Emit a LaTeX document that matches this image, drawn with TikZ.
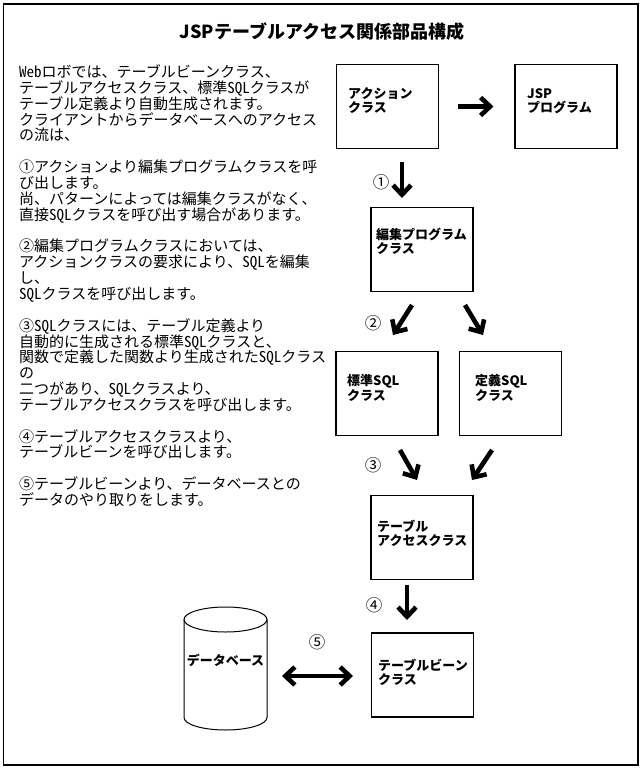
\documentclass[tikz,border=0pt]{standalone}
\usepackage{fontspec}
\setmainfont{Noto Sans CJK JP}
\newfontfamily\hw{Noto Sans CJK JP}[CharacterWidth=Half]
\usetikzlibrary{arrows.meta}
\tikzset{
  frame/.style={draw=black, line width=1.2pt},
  box/.style={draw=black, line width=1.1pt, minimum width=102pt, minimum height=84pt, inner sep=0pt},
  boxtext/.style={anchor=base west, align=left, inner sep=0pt, font=\bfseries\fontsize{13}{13.5}\selectfont},
  numlabel/.style={inner sep=0pt, font=\fontsize{16.5}{18}\selectfont},
  bigarrow/.style={line width=4.6pt, -{Straight Barb[length=9.5pt,width=18pt]}},
  dblarrow/.style={line width=4.6pt, {Straight Barb[length=9.5pt,width=18pt]}-{Straight Barb[length=9.5pt,width=18pt]}},
  cyl/.style={draw=black, line width=1pt}
}
\begin{document}
\begin{tikzpicture}[x=1pt, y=-1pt]
\useasboundingbox (0,0) rectangle (644,770);
\draw[frame] (3.5,4) rectangle (638,765);

\node[inner sep=0pt, font=\bfseries\fontsize{18}{20}\selectfont] (title) at (322,31.5) {JSPテーブルアクセス関係部品構成};

\node[anchor=base west, align=left, inner sep=0pt, font=\fontsize{15}{15.85}\selectfont] (desc) at (19,505.5) {%
{\hw Web}ロボでは、テーブルビーンクラス、\\
テーブルアクセスクラス、標準{\hw SQL}クラスが\\
テーブル定義より自動生成されます。\\
クライアントからデータベースへのアクセス\\
の流は、\\
~\\
①アクションより編集プログラムクラスを呼\\
び出します。\\
尚、パターンによっては編集クラスがなく、\\
直接{\hw SQL}クラスを呼び出す場合があります。\\
~\\
②編集プログラムクラスにおいては、\\
アクションクラスの要求により、{\hw SQL}を編集\\
し、\\
{\hw SQL}クラスを呼び出します。\\
~\\
③{\hw SQL}クラスには、テーブル定義より\\
自動的に生成される標準{\hw SQL}クラスと、\\
関数で定義した関数より生成された{\hw SQL}クラス\\
の\\
二つがあり、{\hw SQL}クラスより、\\
テーブルアクセスクラスを呼び出します。\\
~\\
④テーブルアクセスクラスより、\\
テーブルビーンを呼び出します。\\
~\\
⑤テーブルビーンより、データベースとの\\
データのやり取りをします。};

% boxes
\node[box] (act) at (387.5,106.5) {};
\node[box] (jsp) at (566,106.5) {};
\node[box] (edit) at (422,249.5) {};
\node[box] (std) at (387,393.5) {};
\node[box] (def) at (510.5,393.5) {};
\node[box] (tac) at (422,537.5) {};
\node[box] (bean) at (422.5,675) {};

\node[boxtext] (act-t) at (348,112.5) {アクション\\クラス};
\node[boxtext] (jsp-t) at (527,112.5) {JSP\\プログラム};
\node[boxtext] (edit-t) at (376,253) {編集プログラム\\クラス};
\node[boxtext] (std-t) at (347,400) {標準SQL\\クラス};
\node[boxtext] (def-t) at (475,400) {定義SQL\\クラス};
\node[boxtext] (tac-t) at (377,545) {テーブル\\アクセスクラス};
\node[boxtext] (bean-t) at (378,684) {テーブルビーン\\クラス};

% database cylinder
\draw[cyl] (225.5,619.5) ellipse[x radius=41.5pt, y radius=12.5pt];
\draw[cyl] (184,619.5) -- (184,717.5) arc[start angle=180, end angle=360, x radius=41.5pt, y radius=12.5pt] -- (267,619.5);
\node[inner sep=0pt, font=\bfseries\fontsize{13}{13.5}\selectfont] (db) at (225.5,660) {データベース};

% arrow end points
\coordinate (a1s) at (402,162); \coordinate (a1e) at (402,198);
\coordinate (a2ls) at (412,305); \coordinate (a2le) at (393,335);
\coordinate (a2rs) at (465,305); \coordinate (a2re) at (483,335);
\coordinate (a3ls) at (400,450); \coordinate (a3le) at (417,480);
\coordinate (a3rs) at (492,450); \coordinate (a3re) at (472,480);
\coordinate (a4s) at (407,585); \coordinate (a4e) at (407,620);
\coordinate (a5s) at (282,676); \coordinate (a5e) at (353,676);

\draw[bigarrow, shorten <=19pt, shorten >=21pt] (act.east) -- (jsp.west);
\draw[bigarrow] (a1s) -- (a1e);
\draw[bigarrow] (a2ls) -- (a2le);
\draw[bigarrow] (a2rs) -- (a2re);
\draw[bigarrow] (a3ls) -- (a3le);
\draw[bigarrow] (a3rs) -- (a3re);
\draw[bigarrow] (a4s) -- (a4e);
\draw[dblarrow] (a5s) -- (a5e);

\node[numlabel] (n1) at (381,182) {①};
\node[numlabel] (n2) at (373,323) {②};
\node[numlabel] (n3) at (373,465) {③};
\node[numlabel] (n4) at (374,605) {④};
\node[numlabel] (n5) at (317,642) {⑤};
\end{tikzpicture}
\end{document}
